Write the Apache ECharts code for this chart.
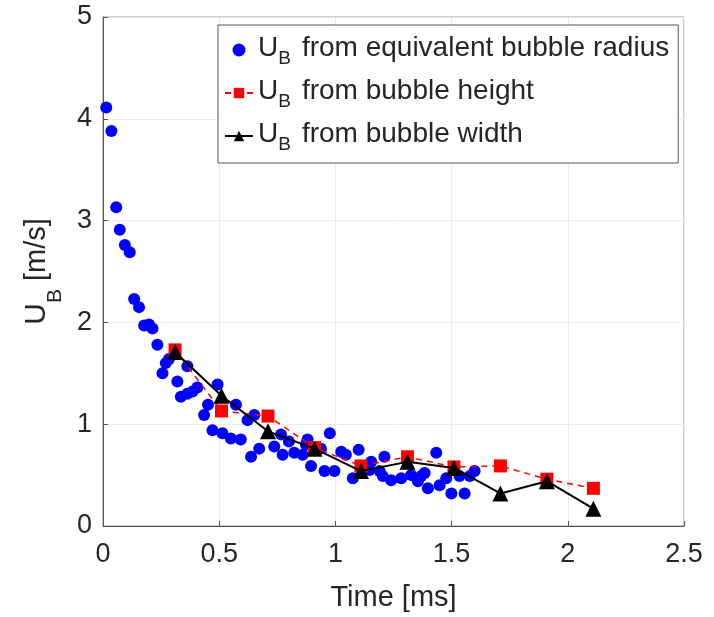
<!DOCTYPE html>
<html lang="en">
<head>
	<meta charset="UTF-8">
	<title>bubble_velocity</title>
	<script type="text/javascript" src="https://cdn.jsdelivr.net/npm/echarts@6/dist/echarts.min.js"></script>
	<style>
		html, body { margin: 0; padding: 0; background: #fff; }
	</style>
</head>
<body>
<div id="chart" style="width: 714px;height: 617px"></div>

<script type="text/javascript">
    // 数据: [时间 ms, U_B m/s]
    var radiusData = [
        [0.014,4.11],[0.036,3.88],[0.057,3.13],[0.072,2.91],[0.094,2.76],[0.115,2.69],
        [0.134,2.23],[0.155,2.15],[0.177,1.97],[0.198,1.98],[0.213,1.94],[0.234,1.78],
        [0.256,1.50],[0.27,1.60],[0.284,1.64],[0.320,1.42],[0.335,1.27],[0.363,1.57],
        [0.363,1.30],[0.385,1.32],[0.406,1.36],[0.435,1.09],[0.452,1.19],[0.471,0.94],
        [0.493,1.39],[0.514,0.91],[0.55,0.86],[0.572,1.19],[0.593,0.85],[0.622,1.04],
        [0.651,1.09],[0.637,0.68],[0.672,0.76],[0.737,0.78],[0.766,0.90],[0.773,0.70],
        [0.80,0.83],[0.823,0.72],[0.859,0.70],[0.873,0.80],[0.88,0.85],[0.895,0.59],
        [0.938,0.76],[0.953,0.54],[0.976,0.91],[0.996,0.54],[1.025,0.73],[1.045,0.70],
        [1.075,0.47],[1.10,0.75],[1.154,0.63],[1.147,0.55],[1.19,0.54],[1.211,0.68],
        [1.204,0.49],[1.24,0.45],[1.283,0.47],[1.326,0.50],[1.369,0.49],[1.384,0.52],
        [1.355,0.44],[1.398,0.37],[1.434,0.72],[1.448,0.40],[1.477,0.47],[1.499,0.32],
        [1.534,0.49],[1.556,0.32],[1.578,0.49],[1.599,0.54]
    ];
    var heightData = [
        [0.31,1.73],[0.51,1.13],[0.71,1.08],[0.91,0.77],[1.11,0.59],
        [1.31,0.68],[1.51,0.58],[1.71,0.59],[1.91,0.46],[2.11,0.37]
    ];
    var widthData = [
        [0.31,1.71],[0.51,1.28],[0.71,0.93],[0.91,0.76],[1.11,0.54],
        [1.31,0.63],[1.51,0.57],[1.71,0.32],[1.91,0.44],[2.11,0.17]
    ];
    var seriesNames = [
        'from equivalent bubble radius',
        'from bubble height',
        'from bubble width'
    ];

    var FONT = 'Liberation Sans';
    var chart = echarts.init(document.getElementById('chart'), null, {renderer: 'canvas'});

    var option = {
        backgroundColor: '#fff',
        textStyle: { fontFamily: FONT },
        grid: {
            left: 103, right: 30, top: 17, bottom: 89,
            show: true,
            borderColor: '#999',
            borderWidth: 1
        },
        legend: {
            orient: 'vertical',
            left: 218,
            top: 25,
            padding: [7, 9, 9, 6],
            itemGap: 7,
            itemWidth: 28,
            itemHeight: 13,
            backgroundColor: '#fff',
            borderColor: '#555',
            borderWidth: 1,
            borderRadius: 0,
            data: [
                {name: seriesNames[0], icon: 'circle'},
                {name: seriesNames[1]},
                {name: seriesNames[2]}
            ],
            formatter: function (name) {
                return '{u|U}{s|B}{t|' + name + '}';
            },
            textStyle: {
                color: '#262626',
                rich: {
                    u: {fontSize: 28, fontFamily: FONT, color: '#262626', lineHeight: 36, verticalAlign: 'top', padding: [2, 0, 0, 0]},
                    s: {fontSize: 19, fontFamily: FONT, color: '#262626', lineHeight: 36, verticalAlign: 'bottom'},
                    t: {fontSize: 28, fontFamily: FONT, color: '#262626', lineHeight: 36, verticalAlign: 'top', padding: [2, 0, 0, 11]}
                }
            }
        },
        xAxis: {
            type: 'value',
            min: 0, max: 2.5, interval: 0.5,
            name: 'Time [ms]',
            nameLocation: 'middle',
            nameGap: 57,
            nameTextStyle: { fontSize: 29, color: '#262626', fontFamily: FONT },
            axisLine: { show: true, lineStyle: { color: '#555', width: 1 } },
            axisTick: { show: true, inside: true, length: 5, lineStyle: { color: '#555' } },
            axisLabel: { fontSize: 27, color: '#262626', margin: 15, fontFamily: FONT },
            splitLine: { show: true, lineStyle: { color: '#ebebeb', width: 1 } }
        },
        yAxis: {
            type: 'value',
            min: 0, max: 5, interval: 1,
            name: '{u|U}{s|B}{t| [m/s]}',
            nameLocation: 'middle',
            nameGap: 33,
            nameRotate: 90,
            nameTextStyle: {
                color: '#262626',
                rich: {
                    u: {fontSize: 30, fontFamily: FONT, color: '#262626', lineHeight: 44, verticalAlign: 'top'},
                    s: {fontSize: 21, fontFamily: FONT, color: '#262626', lineHeight: 44, verticalAlign: 'bottom'},
                    t: {fontSize: 29, fontFamily: FONT, color: '#262626', lineHeight: 44, verticalAlign: 'top'}
                }
            },
            axisLine: { show: true, lineStyle: { color: '#555', width: 1 } },
            axisTick: { show: true, inside: true, length: 5, lineStyle: { color: '#555' } },
            axisLabel: { fontSize: 27, color: '#262626', margin: 11, fontFamily: FONT },
            splitLine: { show: true, lineStyle: { color: '#ebebeb', width: 1 } }
        },
        series: [
            {
                name: seriesNames[0],
                type: 'scatter',
                symbol: 'circle',
                symbolSize: 12,
                itemStyle: { color: '#0000ff', opacity: 1 },
                data: radiusData,
                z: 2
            },
            {
                name: seriesNames[1],
                type: 'line',
                symbol: 'rect',
                symbolSize: 13,
                showSymbol: true,
                lineStyle: { color: '#ff0000', width: 1.5, type: [6, 5] },
                itemStyle: { color: '#ff0000' },
                data: heightData,
                z: 3
            },
            {
                name: seriesNames[2],
                type: 'line',
                symbol: 'triangle',
                symbolSize: 16,
                showSymbol: true,
                lineStyle: { color: '#000', width: 2 },
                itemStyle: { color: '#000' },
                data: widthData,
                z: 4
            }
        ],
        animation: false
    };

    chart.setOption(option);
</script>
</body>
</html>
